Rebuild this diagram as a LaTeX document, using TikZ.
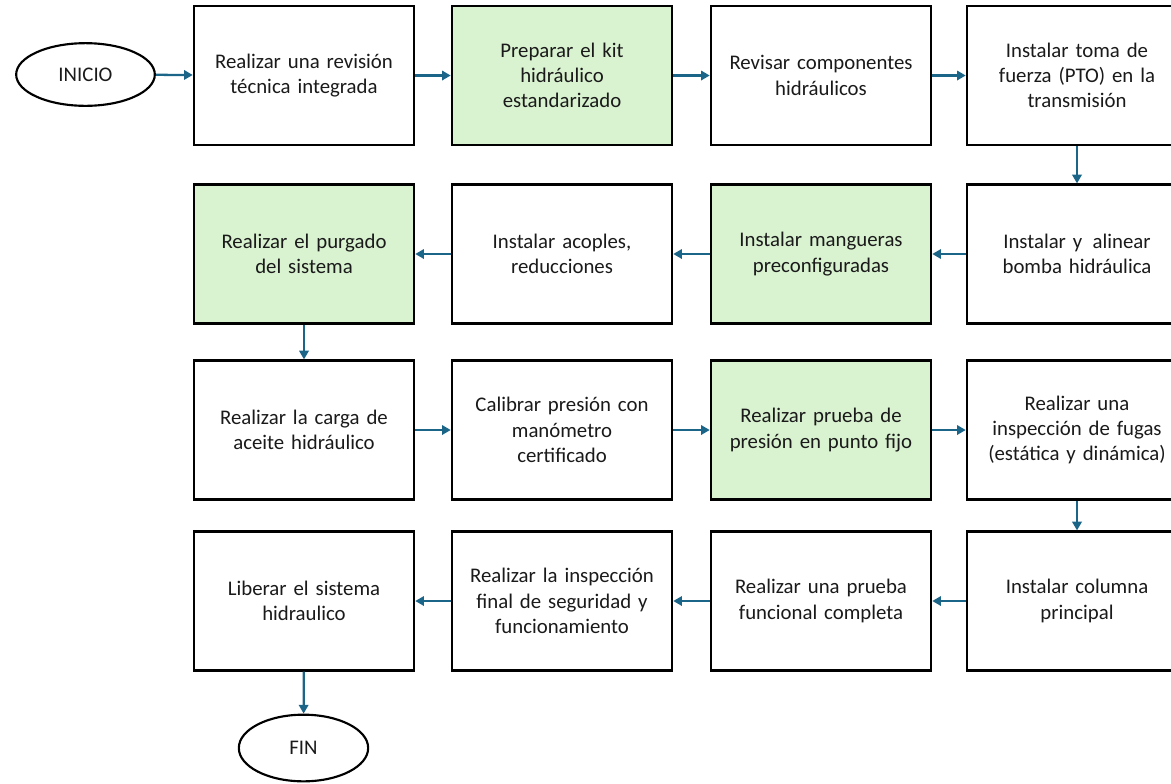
\documentclass[tikz,border=0pt]{standalone}
\usepackage{fontspec}
\setmainfont{Carlito}
\usetikzlibrary{shapes.geometric,arrows.meta}
\definecolor{flowarrow}{HTML}{1B6589}
\definecolor{greenfill}{HTML}{D9F2D0}
\definecolor{txt}{HTML}{1A1A1A}
\begin{document}
\begin{tikzpicture}[x=0.75pt,y=-0.75pt,
  stepbox/.style={draw=black,line width=1.9pt,fill=white,minimum width=165pt,minimum height=104pt,
    inner sep=0pt,align=center,text width=162pt,text=txt,
    font=\fontsize{15.6}{19}\selectfont},
  hl/.style={fill=greenfill},
  term/.style={ellipse,draw=black,line width=1.6pt,inner sep=0pt,text=txt,
    font=\fontsize{15.6}{19}\selectfont},
  conn/.style={draw=flowarrow,line width=1.7pt,-{Triangle[length=6.5pt,width=7pt]}}
]
\useasboundingbox (0,0) rectangle (1171,783);
\clip (0,0) rectangle (1171,783);
% ellipses
\node[term,minimum width=104pt,minimum height=47pt] (ini) at (85.5,74.5) {INICIO};
\node[term,minimum width=97pt,minimum height=50pt] (fin) at (303.5,748) {FIN};
% row 1
\node[stepbox] (a1) at (304,75.5) {Realizar una revisión\\técnica integrada};
\node[stepbox,hl] (a2) at (562,75.5) {Preparar el kit\\hidráulico\\estandarizado};
\node[stepbox] (a3) at (821,75.5) {Revisar componentes\\hidráulicos};
\node[stepbox] (a4) at (1077,75.5) {Instalar toma de\\fuerza (PTO) en la\\transmisión};
% row 2
\node[stepbox] (b4) at (1077,254) {Instalar y\, alinear\\bomba hidráulica};
\node[stepbox,hl] (b3) at (821,254) {Instalar mangueras\\preconfiguradas};
\node[stepbox] (b2) at (562,254) {Instalar acoples,\\reducciones};
\node[stepbox,hl] (b1) at (304,254) {Realizar el purgado\\del sistema};
% row 3
\node[stepbox] (c1) at (304,430) {Realizar la carga de\\aceite hidráulico};
\node[stepbox] (c2) at (562,430) {Calibrar presión con\\manómetro\\certificado};
\node[stepbox,hl] (c3) at (821,430) {Realizar prueba de\\presión en punto fijo};
\node[stepbox] (c4) at (1077,430) {Realizar una\\inspección de fugas\\(estática y dinámica)};
% row 4
\node[stepbox] (d4) at (1077,601) {Instalar columna\\principal};
\node[stepbox] (d3) at (821,601) {Realizar una prueba\\funcional completa};
\node[stepbox] (d2) at (562,601) {Realizar la inspección\\final de seguridad y\\funcionamiento};
\node[stepbox] (d1) at (304,601) {Liberar el sistema\\hidraulico};
% connectors
\draw[conn] (ini) -- (a1);
\draw[conn] (a1) -- (a2);
\draw[conn] (a2) -- (a3);
\draw[conn] (a3) -- (a4);
\draw[conn] (a4) -- (b4);
\draw[conn] (b4) -- (b3);
\draw[conn] (b3) -- (b2);
\draw[conn] (b2) -- (b1);
\draw[conn] (b1) -- (c1);
\draw[conn] (c1) -- (c2);
\draw[conn] (c2) -- (c3);
\draw[conn] (c3) -- (c4);
\draw[conn] (c4) -- (d4);
\draw[conn] (d4) -- (d3);
\draw[conn] (d3) -- (d2);
\draw[conn] (d2) -- (d1);
\draw[conn] (d1) -- (fin);
\end{tikzpicture}
\end{document}
